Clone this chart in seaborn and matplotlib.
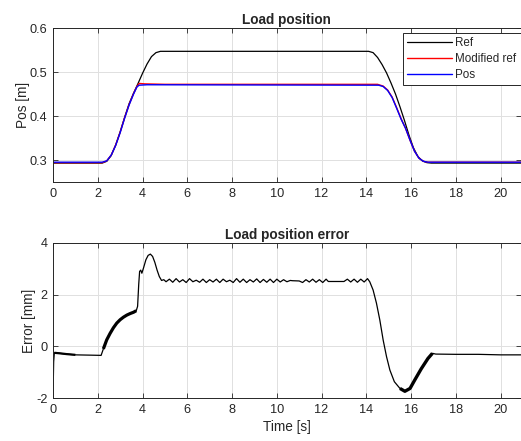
import numpy as np
import pandas as pd
import matplotlib
matplotlib.use("Agg")
import matplotlib.pyplot as plt
import seaborn as sns

# Load position traces (time [s], position [m])
ref_t = [0.0, 2.2, 2.4, 2.6, 2.8, 3.0, 3.2, 3.4, 3.6, 3.8, 4.0, 4.2, 4.4, 4.6, 4.8,
         14.1, 14.3, 14.5, 14.7, 14.9, 15.1, 15.3, 15.5, 15.7, 15.9, 16.1, 16.3,
         16.5, 16.7, 16.9, 20.9]
ref_pos = [0.293, 0.293, 0.297, 0.310, 0.334, 0.364, 0.397, 0.428, 0.452, 0.474,
           0.497, 0.518, 0.535, 0.544, 0.547, 0.547, 0.544, 0.533, 0.517, 0.498,
           0.475, 0.450, 0.421, 0.390, 0.357, 0.328, 0.308, 0.298, 0.294, 0.293, 0.293]

mod_t = [0.0, 2.2, 2.4, 2.6, 2.8, 3.0, 3.2, 3.4, 3.6, 3.75, 3.85, 4.1, 5.0,
         14.5, 14.75, 14.95, 15.15, 15.35, 15.55, 15.75, 15.95, 16.15, 16.35,
         16.55, 16.75, 20.9]
mod_pos = [0.294, 0.294, 0.298, 0.311, 0.334, 0.363, 0.396, 0.426, 0.451, 0.467,
           0.474, 0.473, 0.472, 0.472, 0.468, 0.459, 0.443, 0.419, 0.394, 0.372,
           0.345, 0.320, 0.304, 0.297, 0.295, 0.295]

pos_t = [0.0, 2.2, 2.4, 2.6, 2.8, 3.0, 3.2, 3.4, 3.6, 3.75, 3.85, 4.2,
         14.55, 14.75, 14.95, 15.15, 15.35, 15.55, 15.75, 15.95, 16.15, 16.35,
         16.55, 16.75, 20.9]
pos_val = [0.295, 0.295, 0.298, 0.311, 0.333, 0.362, 0.395, 0.425, 0.450, 0.466,
           0.470, 0.471, 0.470, 0.467, 0.458, 0.442, 0.418, 0.393, 0.372, 0.345,
           0.320, 0.304, 0.297, 0.295, 0.295]

# Load position error (time [s], error [mm])
err_t = [0.00, 0.03, 0.06, 0.30, 0.60, 1.00, 1.60, 2.15, 2.25, 2.40, 2.55, 2.70,
         2.85, 3.00, 3.15, 3.30, 3.45, 3.60, 3.72, 3.78, 3.83, 3.87, 3.92, 3.97,
         4.05, 4.15, 4.25, 4.35, 4.45, 4.55, 4.65, 4.75, 4.85,
         4.95, 5.05, 5.20, 5.35, 5.50, 5.65, 5.80, 5.95, 6.10, 6.25, 6.40, 6.55,
         6.70, 6.85, 7.00, 7.15, 7.30, 7.45, 7.60, 7.75, 7.90, 8.05, 8.20, 8.35,
         8.50, 8.65, 8.80, 8.95, 9.10, 9.25, 9.40, 9.55, 9.70, 9.85, 10.00, 10.15,
         10.30, 10.45, 10.60, 10.70, 11.00, 11.15, 11.30, 11.45, 11.60, 11.75,
         11.90, 12.05, 12.20, 12.30, 13.00, 13.15, 13.30, 13.45, 13.60, 13.75,
         13.90, 14.05,
         14.15, 14.30, 14.45, 14.60, 14.75, 14.90, 15.05, 15.25, 15.50, 15.72,
         15.95, 16.15, 16.45, 16.75, 16.95, 17.10, 18.00, 19.00, 20.00, 20.90]
err_mm = [-2.00, -0.60, -0.25, -0.27, -0.30, -0.33, -0.34, -0.35, -0.10, 0.25, 0.50, 0.72,
          0.90, 1.03, 1.13, 1.21, 1.27, 1.32, 1.38, 1.55, 2.40, 2.90, 2.95, 2.83,
          3.05, 3.35, 3.52, 3.57, 3.48, 3.25, 2.95, 2.70, 2.55,
          2.58, 2.50, 2.60, 2.48, 2.62, 2.49, 2.58, 2.47, 2.62, 2.50, 2.56, 2.48,
          2.60, 2.47, 2.58, 2.49, 2.60, 2.47, 2.60, 2.50, 2.56, 2.47, 2.62, 2.48,
          2.60, 2.47, 2.58, 2.49, 2.61, 2.47, 2.59, 2.48, 2.60, 2.47, 2.60, 2.49,
          2.58, 2.50, 2.55, 2.54, 2.53, 2.47, 2.58, 2.49, 2.60, 2.48,
          2.58, 2.47, 2.60, 2.51, 2.51, 2.60, 2.49, 2.60, 2.48, 2.60,
          2.49, 2.62,
          2.50, 2.18, 1.67, 1.02, 0.24, -0.40, -0.92, -1.37, -1.63, -1.74,
          -1.63, -1.32, -0.87, -0.47, -0.27, -0.30, -0.31, -0.31, -0.33, -0.33]

# time windows where the error trace is blurred by vibration (drawn thicker)
noisy_spans = [(0.05, 1.0, 1.6), (2.2, 3.75, 2.3), (15.4, 16.95, 2.4)]

sns.set_style("ticks")
plt.rcParams["font.family"] = ["Liberation Sans", "DejaVu Sans"]
plt.rcParams["axes.unicode_minus"] = False

fig = plt.figure(figsize=(5.21, 4.41), dpi=100)
ax1 = fig.add_axes([0.1017, 0.5873, 0.898, 0.3492])
ax2 = fig.add_axes([0.1017, 0.0975, 0.898, 0.3515])

sns.lineplot(x=ref_t, y=ref_pos, ax=ax1, color="black", lw=0.9, label="Ref",
             sort=False, estimator=None)
sns.lineplot(x=mod_t, y=mod_pos, ax=ax1, color="red", lw=1.0, label="Modified ref",
             sort=False, estimator=None)
sns.lineplot(x=pos_t, y=pos_val, ax=ax1, color="blue", lw=1.0, label="Pos",
             sort=False, estimator=None)

err = pd.DataFrame({"t": err_t, "e": err_mm})
sns.lineplot(data=err, x="t", y="e", ax=ax2, color="black", lw=0.9,
             sort=False, estimator=None)
for t0, t1, w in noisy_spans:
    seg = err[(err.t >= t0) & (err.t <= t1)]
    ax2.plot(seg.t, seg.e, color="black", lw=w, solid_capstyle="butt")

for ax in (ax1, ax2):
    ax.set_xlim(0, 20.9)
    ax.set_xticks(range(0, 21, 2))
    ax.grid(True, color="#e0e0e0", lw=0.7)
    ax.tick_params(direction="in", top=True, right=True, length=3.5, width=0.6,
                   labelsize=9.2, colors="#262626", pad=4)
    for s in ax.spines.values():
        s.set_color("#262626")
        s.set_linewidth(0.7)
        s.set_visible(True)

ax1.set_ylim(0.25, 0.6)
ax1.set_yticks([0.3, 0.4, 0.5, 0.6])
ax1.set_yticklabels(["0.3", "0.4", "0.5", "0.6"])
ax1.set_xlabel("")
ax1.set_ylabel("Pos [m]", fontsize=9.8, color="#262626", labelpad=0)
ax1.set_title("Load position", fontsize=9.8, fontweight="bold", pad=3)
leg = ax1.legend(loc="upper right", bbox_to_anchor=(1.0, 0.97), borderaxespad=0,
                 fontsize=8.4, handlelength=3.8, frameon=True, fancybox=False,
                 labelspacing=0.32, borderpad=0.4, handletextpad=0.3)
leg.get_frame().set_edgecolor("#262626")
leg.get_frame().set_linewidth(0.7)
leg.get_frame().set_alpha(1)

ax2.set_ylim(-2, 4)
ax2.set_yticks([-2, 0, 2, 4])
ax2.set_xlabel("Time [s]", fontsize=9.8, color="#262626", labelpad=3)
ax2.set_ylabel("Error [mm]", fontsize=9.8, color="#262626", labelpad=0)
ax2.set_title("Load position error", fontsize=9.8, fontweight="bold", pad=3)

fig.savefig("out.png", dpi=100)
